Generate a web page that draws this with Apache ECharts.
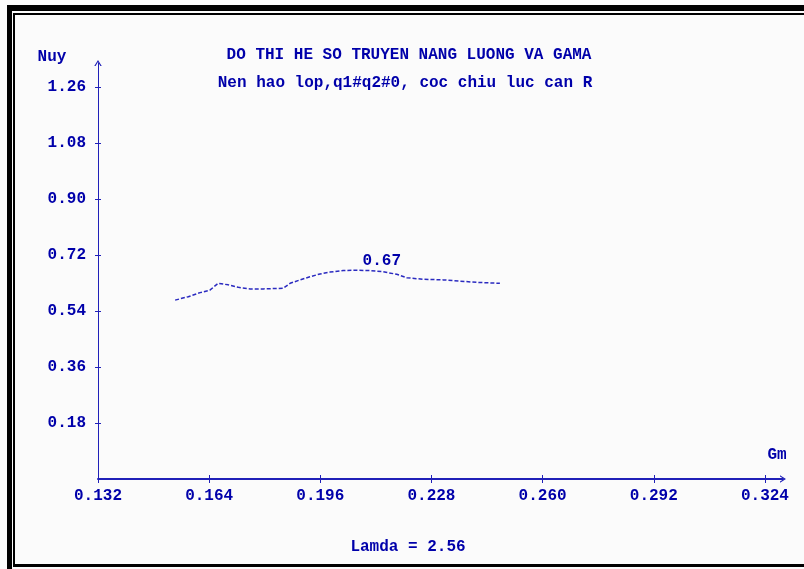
<!DOCTYPE html>
<html>
<head>
<meta charset="utf-8">
<script src="https://cdn.jsdelivr.net/npm/echarts@6/dist/echarts.min.js"></script>
<style>
  html, body { margin: 0; padding: 0; background: #fbfbfb; }
  #main { width: 804px; height: 569px; }
</style>
</head>
<body>
<div id="main"></div>
<script>
// data
var gamma = [0.1542, 0.1580, 0.1614, 0.1642, 0.1666, 0.1695, 0.1724, 0.1758, 0.1796, 0.1853,
             0.1873, 0.1902, 0.1930, 0.1959, 0.1988, 0.2026, 0.2065, 0.2103, 0.2141, 0.2180,
             0.2209, 0.2256, 0.2314, 0.2362, 0.2410, 0.2477];
var nuy = [0.575, 0.586, 0.599, 0.607, 0.629, 0.624, 0.616, 0.611, 0.611, 0.613,
           0.629, 0.640, 0.650, 0.659, 0.665, 0.670, 0.671, 0.670, 0.666, 0.658,
           0.647, 0.642, 0.640, 0.636, 0.632, 0.629];
var xTicks = [0.132, 0.164, 0.196, 0.228, 0.260, 0.292, 0.324];
var yTicks = [0.18, 0.36, 0.54, 0.72, 0.90, 1.08, 1.26];

var titleText = 'DO THI HE SO TRUYEN NANG LUONG VA GAMA';
var subText = 'Nen hao lop,q1#q2#0, coc chiu luc can R';
var lamdaText = 'Lamda = 2.56';

var txtColor = '#0000aa';
var axColor = '#2020b8';
var fnt = 'bold 16px "Liberation Mono", "DejaVu Sans Mono", monospace';
var chevron = 'path://M0,8 L5,0 L10,8 L8.2,8 L5,2.8 L1.8,8 Z';

var pts = [];
for (var i = 0; i < gamma.length; i++) {
    pts.push([gamma[i], nuy[i]]);
}

var chart = echarts.init(document.getElementById('main'));

var option = {
    backgroundColor: '#fbfbfb',
    animation: false,
    grid: { left: 98, right: 21, top: 63, bottom: 90 },
    xAxis: [{
        type: 'value',
        min: 0.132,
        max: 0.3292,
        axisLine: {
            lineStyle: { color: axColor, width: 2 },
            symbol: ['none', chevron],
            symbolSize: [9, 6]
        },
        axisTick: { customValues: xTicks, length: 4, lineStyle: { color: axColor } },
        axisLabel: {
            customValues: xTicks,
            margin: 9,
            color: txtColor,
            fontFamily: '"Liberation Mono", monospace',
            fontWeight: 'bold',
            fontSize: 16,
            formatter: function (v) { return v.toFixed(3); }
        },
        splitLine: { show: false }
    }, {
        type: 'value',
        position: 'bottom',
        min: 0.132,
        max: 0.3292,
        axisLine: { show: false },
        axisTick: { customValues: xTicks, inside: true, length: 4, lineStyle: { color: axColor } },
        axisLabel: { show: false },
        splitLine: { show: false }
    }],
    yAxis: [{
        type: 'value',
        min: 0,
        max: 1.3371,
        axisLine: {
            show: true,
            lineStyle: { color: axColor, width: 1 },
            symbol: ['none', chevron],
            symbolSize: [8, 6]
        },
        axisTick: { show: true, customValues: yTicks, length: 3, lineStyle: { color: axColor } },
        axisLabel: {
            customValues: yTicks,
            margin: 12,
            color: txtColor,
            fontFamily: '"Liberation Mono", monospace',
            fontWeight: 'bold',
            fontSize: 16,
            formatter: function (v) { return v.toFixed(2); }
        },
        splitLine: { show: false }
    }, {
        type: 'value',
        position: 'left',
        min: 0,
        max: 1.3371,
        axisLine: { show: false },
        axisTick: { show: true, customValues: yTicks, inside: true, length: 3, lineStyle: { color: axColor } },
        axisLabel: { show: false },
        splitLine: { show: false }
    }],
    series: [{
        type: 'line',
        data: pts,
        showSymbol: false,
        lineStyle: { color: '#2a2ac0', width: 1.5, type: [4, 2] },
        markPoint: {
            symbol: 'circle',
            symbolSize: 0,
            data: [{ type: 'max' }],
            label: {
                show: true,
                position: 'inside',
                offset: [25, -9],
                color: txtColor,
                fontFamily: '"Liberation Mono", monospace',
                fontWeight: 'bold',
                fontSize: 16,
                formatter: function (p) { return p.value.toFixed(2); }
            }
        }
    }],
    graphic: [
        // frame
        { type: 'rect', shape: { x: 7, y: 5, width: 797, height: 6 }, style: { fill: '#000' } },
        { type: 'rect', shape: { x: 7, y: 5, width: 5, height: 564 }, style: { fill: '#000' } },
        { type: 'rect', shape: { x: 13, y: 13, width: 791, height: 2 }, style: { fill: '#000' } },
        { type: 'rect', shape: { x: 13, y: 13, width: 2, height: 554 }, style: { fill: '#000' } },
        { type: 'rect', shape: { x: 13, y: 564, width: 791, height: 3 }, style: { fill: '#000' } },
        // texts
        { type: 'text', x: 409, y: 55, style: { text: titleText, font: fnt, fill: txtColor, textAlign: 'center', textVerticalAlign: 'middle' } },
        { type: 'text', x: 405, y: 83, style: { text: subText, font: fnt, fill: txtColor, textAlign: 'center', textVerticalAlign: 'middle' } },
        { type: 'text', x: 52, y: 57, style: { text: 'Nuy', font: fnt, fill: txtColor, textAlign: 'center', textVerticalAlign: 'middle' } },
        { type: 'text', x: 777, y: 455, style: { text: 'Gm', font: fnt, fill: txtColor, textAlign: 'center', textVerticalAlign: 'middle' } },
        { type: 'text', x: 408, y: 547, style: { text: lamdaText, font: fnt, fill: txtColor, textAlign: 'center', textVerticalAlign: 'middle' } }
    ]
};

chart.setOption(option);
</script>
</body>
</html>
